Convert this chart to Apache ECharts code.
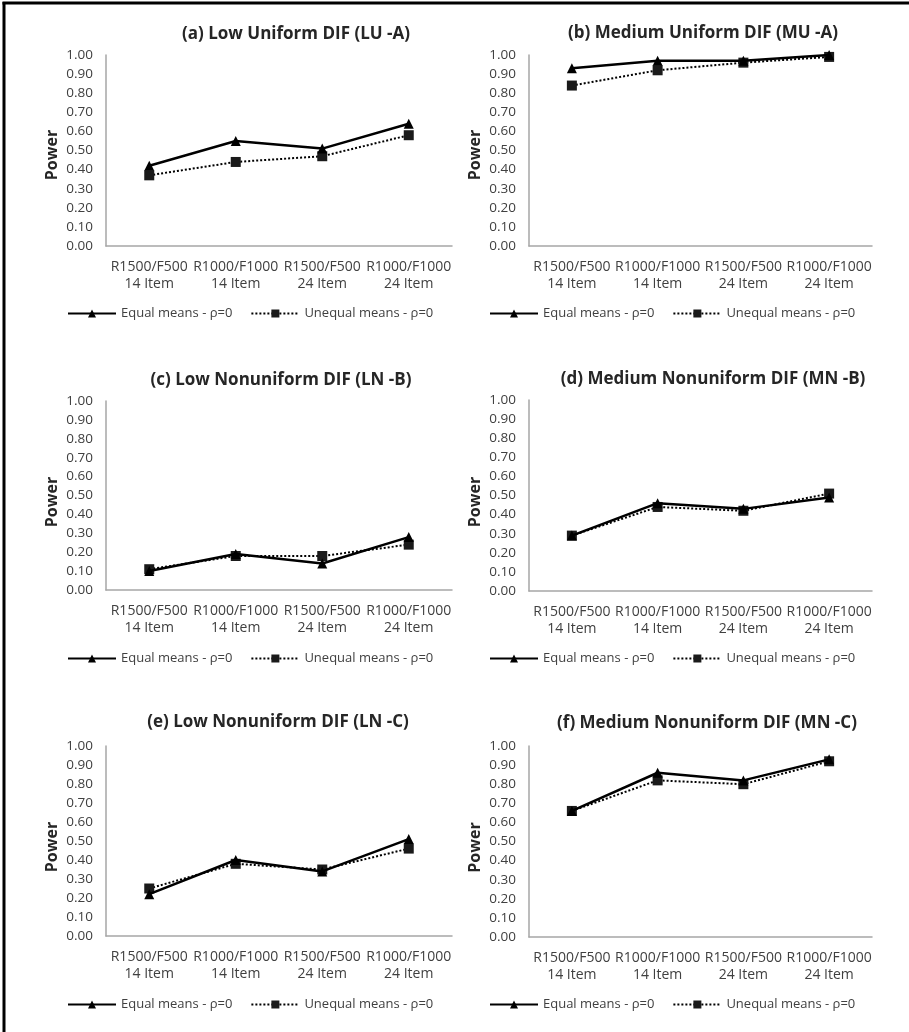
<!DOCTYPE html>
<html>
<head>
<meta charset="utf-8">
<script src="https://cdn.jsdelivr.net/npm/echarts@6/dist/echarts.min.js"></script>
<style>
  html, body { margin: 0; padding: 0; background: #fff; }
  #chart { width: 909px; height: 1032px; }
</style>
</head>
<body>
<div id="chart"></div>
<script>
// Conditions on the x axis (sample sizes / test length)
const categories = [
  'R1500/F500\n14 Item',
  'R1000/F1000\n14 Item',
  'R1500/F500\n24 Item',
  'R1000/F1000\n24 Item'
];

const panelTitles = [
  '(a) Low Uniform DIF (LU -A)',
  '(b) Medium Uniform DIF (MU -A)',
  '(c) Low Nonuniform DIF (LN -B)',
  '(d) Medium Nonuniform DIF (MN -B)',
  '(e) Low Nonuniform DIF (LN -C)',
  '(f) Medium Nonuniform DIF (MN -C)'
];

const yTicks = [0, 0.1, 0.2, 0.3, 0.4, 0.5, 0.6, 0.7, 0.8, 0.9, 1.0];

const seriesNames = ['Equal means - ρ=0', 'Unequal means - ρ=0'];

// Power values per panel
const equalA   = [0.42, 0.55, 0.51, 0.64];
const unequalA = [0.37, 0.44, 0.47, 0.58];
const equalB   = [0.93, 0.97, 0.97, 1.00];
const unequalB = [0.84, 0.92, 0.96, 0.99];
const equalC   = [0.10, 0.19, 0.14, 0.28];
const unequalC = [0.11, 0.18, 0.18, 0.24];
const equalD   = [0.29, 0.46, 0.43, 0.49];
const unequalD = [0.29, 0.44, 0.42, 0.51];
const equalE   = [0.22, 0.40, 0.34, 0.51];
const unequalE = [0.25, 0.38, 0.35, 0.46];
const equalF   = [0.66, 0.86, 0.82, 0.93];
const unequalF = [0.66, 0.82, 0.80, 0.92];

const equalSets = [equalA, equalB, equalC, equalD, equalE, equalF];
const unequalSets = [unequalA, unequalB, unequalC, unequalD, unequalE, unequalF];

const FONT = '"Open Sans", Lato, "DejaVu Sans", sans-serif';
const TEXT = '#404040';
const AXIS = '#a6a6a6';

// Panel frames: [gridLeft, gridTop, gridWidth, gridHeight, titleCenterX, titleY, legendLeft, legendY, nameShift]
const frames = [
  [106,  55, 346, 191, 291,  29,  67,  313, 9],
  [529,  55, 343, 191, 698,  28,  489, 313, 9],
  [106, 401, 346, 189, 276, 375,  67,  658, 13],
  [529, 400, 343, 191, 708, 374,  489, 658, 13],
  [106, 746, 346, 190, 273, 717,  67, 1004, 12],
  [529, 746, 343, 191, 702, 718,  489, 1004, 12]
];

const grid = [], xAxis = [], yAxis = [], title = [], legend = [], series = [];

frames.forEach((f, i) => {
  const [gl, gt, gw, gh, tx, ty, ll, ly, ns] = f;
  grid.push({ left: gl, top: gt, width: gw, height: gh, containLabel: false });
  title.push({
    text: panelTitles[i],
    left: tx, top: ty,
    textAlign: 'center', textVerticalAlign: 'middle',
    textStyle: { fontFamily: FONT, fontWeight: 'bold', fontSize: 17, color: '#262626' }
  });
  xAxis.push({
    type: 'category', gridIndex: i, data: categories, boundaryGap: true,
    axisLine: { lineStyle: { color: AXIS, width: 1.5 } },
    axisTick: { show: false },
    axisLabel: { interval: 0, fontFamily: FONT, fontSize: 14, color: TEXT, lineHeight: 17, margin: 13 }
  });
  yAxis.push({
    type: 'value', gridIndex: i, min: yTicks[0], max: yTicks[yTicks.length - 1], interval: 0.1,
    name: 'Power', nameLocation: 'middle', nameGap: 46, nameRotate: 90,
    nameTextStyle: { fontFamily: FONT, fontWeight: 'bold', fontSize: 16, color: '#262626', padding: [0, ns, 0, 0] },
    axisLine: { show: true, lineStyle: { color: AXIS, width: 1.5 } },
    axisTick: { show: false },
    splitLine: { show: false },
    axisLabel: { fontFamily: FONT, fontSize: 13.5, color: TEXT, margin: 13, formatter: v => v.toFixed(2) }
  });
  legend.push({
    left: ll, top: ly - 6, orient: 'horizontal',
    data: seriesNames,
    itemWidth: 48, itemHeight: 10, itemGap: 18,
    textStyle: { fontFamily: FONT, fontSize: 13, color: TEXT },
    padding: 0
  });
  series.push({
    name: seriesNames[0], type: 'line', xAxisIndex: i, yAxisIndex: i,
    data: equalSets[i],
    symbol: 'triangle', symbolSize: 10,
    lineStyle: { color: '#000', width: 2.5, type: 'solid' },
    itemStyle: { color: '#000' },
    z: 3
  });
  series.push({
    name: seriesNames[1], type: 'line', xAxisIndex: i, yAxisIndex: i,
    data: unequalSets[i],
    symbol: 'rect', symbolSize: 10,
    lineStyle: { color: '#000', width: 2, type: 'dotted' },
    itemStyle: { color: '#1a1a1a' },
    z: 2
  });
});

const chart = echarts.init(document.getElementById('chart'), null, { renderer: 'canvas' });
chart.setOption({
  backgroundColor: '#fff',
  animation: false,
  title, grid, xAxis, yAxis, legend, series,
  graphic: [
    { type: 'line', shape: { x1: 4, y1: 2, x2: 4, y2: 1032 }, style: { stroke: '#000', lineWidth: 3 } },
    { type: 'line', shape: { x1: 2.5, y1: 3, x2: 909, y2: 3 }, style: { stroke: '#000', lineWidth: 3 } }
  ]
});
</script>
</body>
</html>
